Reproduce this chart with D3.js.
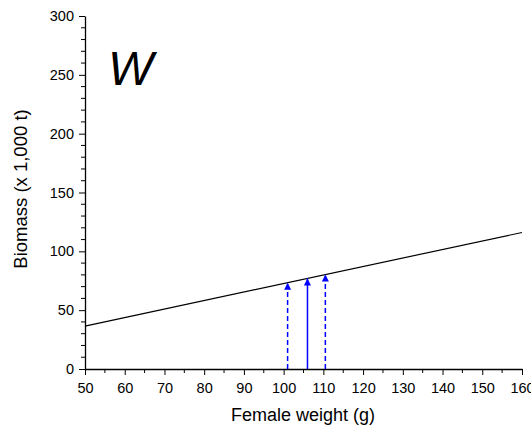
<!DOCTYPE html>
<html><head><meta charset="utf-8">
<script src="https://cdn.jsdelivr.net/npm/d3@7"></script>
<style>body{margin:0;background:#fff;font-family:"Liberation Sans",Arial,sans-serif;}</style>
</head><body>
<svg id="c" width="531" height="426"></svg>
<script>
const xTicks = [50,60,70,80,90,100,110,120,130,140,150,160];
const yTicks = [0,50,100,150,200,250,300];
const lineX = [50,160];
const lineY = [36.5,116];
const arrowX = [101,106,110.5];
const arrowDashed = [true,false,true];
const panelLabel = "W";

const svg = d3.select("#c");
const x = d3.scaleLinear().domain([50,160]).range([85,522]);
const y = d3.scaleLinear().domain([0,300]).range([369,16]);
const lineVal = v => lineY[0] + (lineY[1]-lineY[0])*(v-lineX[0])/(lineX[1]-lineX[0]);

// minor ticks
const xMinor = d3.range(55,160,10);
const yMinor = d3.range(0,301,10).filter(v=>v%50!==0);
const g = svg.append("g");
g.selectAll(".xm").data(xMinor).join("line").attr("x1",d=>x(d)).attr("x2",d=>x(d)).attr("y1",369).attr("y2",373).attr("stroke","#000");
g.selectAll(".ym").data(yMinor).join("line").attr("x1",81).attr("x2",85).attr("y1",d=>y(d)).attr("y2",d=>y(d)).attr("stroke","#000");

const xa = svg.append("g").attr("transform","translate(0,369)").call(d3.axisBottom(x).tickValues(xTicks).tickSize(6).tickSizeOuter(0).tickPadding(8));
const ya = svg.append("g").attr("transform","translate(85,0)").call(d3.axisLeft(y).tickValues(yTicks).tickSize(6).tickSizeOuter(0).tickPadding(5));
[xa,ya].forEach(a=>{a.selectAll("text").attr("font-size",14.5).attr("font-family","Liberation Sans, Arial, sans-serif").attr("fill","#000");a.select(".domain").attr("stroke","#000").attr("stroke-width",1.3);a.selectAll(".tick line").attr("stroke","#000");});

// main line
svg.append("line").attr("x1",x(lineX[0])).attr("y1",y(lineY[0])).attr("x2",x(lineX[1])).attr("y2",y(lineY[1])).attr("stroke","#000").attr("stroke-width",1.2);

// arrows
svg.append("defs").append("marker").attr("id","ah").attr("viewBox","0 0 10 10").attr("refX",10).attr("refY",5)
  .attr("markerWidth",8).attr("markerHeight",7).attr("markerUnits","userSpaceOnUse").attr("orient","auto")
  .append("path").attr("d","M0,0 L10,5 L0,10 Z").attr("fill","#0000ff");
svg.selectAll(".arr").data(arrowX).join("line")
  .attr("x1",d=>x(d)).attr("x2",d=>x(d)).attr("y1",y(0)).attr("y2",d=>y(lineVal(d)))
  .attr("stroke","#0000ff").attr("stroke-width",1.5)
  .attr("stroke-dasharray",(d,i)=>arrowDashed[i]?"5,3":null)
  .attr("marker-end","url(#ah)");

svg.append("text").attr("x",108).attr("y",85).attr("font-size",48).attr("font-style","italic").text(panelLabel);
svg.append("text").attr("x",303).attr("y",421).attr("text-anchor","middle").attr("font-size",18).text("Female weight (g)");
svg.append("text").attr("transform","translate(27,189) rotate(-90)").attr("text-anchor","middle").attr("font-size",18.5).text("Biomass (x 1,000 t)");
</script>
</body></html>
